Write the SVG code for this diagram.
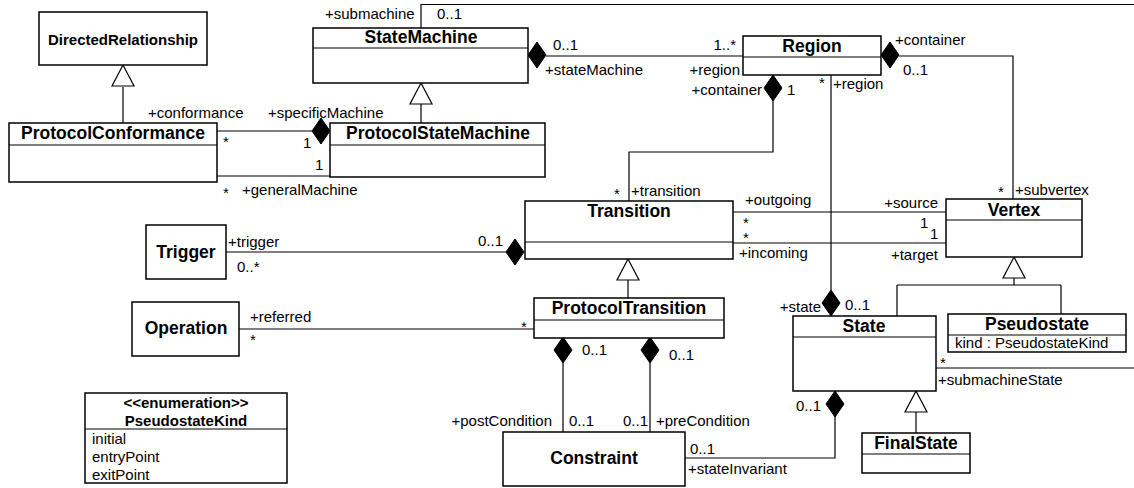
<svg xmlns="http://www.w3.org/2000/svg" xmlns:xlink="http://www.w3.org/1999/xlink" width="1134" height="488" viewBox="0 0 1134 488">
<style>
.box{fill:#fff;stroke:#000;stroke-width:1.5}
.ln{fill:none;stroke:#000;stroke-width:1.2}
text{font-family:"Liberation Sans",Arial,Helvetica,sans-serif;fill:#000}
.t{font-weight:bold;font-size:17.5px;text-anchor:middle}
.ts{font-weight:bold;font-size:15px;text-anchor:middle}
.l{font-size:15px}
.e{text-anchor:end}
.dia{fill:#000;stroke:#000;stroke-width:1}
.tri{fill:#fff;stroke:#000;stroke-width:1.2}
</style>
<defs>
<path id="dm" d="M0,-13 L9,0 L0,13 L-9,0 Z"/>
<path id="tr" d="M0,0 L11,21 L-11,21 Z"/>
</defs>
<rect width="1134" height="488" fill="#fff"/>

<g id="connectors">
<path class="ln" d="M217,131 H312"/>
<path class="ln" d="M217,176 H330"/>
<path class="ln" d="M421,28 V4.5 H1134"/>
<path class="ln" d="M936,368 H1134"/>
<path class="ln" d="M546,56 H743"/>
<path class="ln" d="M899,56 H1013 V199"/>
<path class="ln" d="M773,101 V152 H629 V201"/>
<path class="ln" d="M831,75 V290"/>
<path class="ln" d="M733,212 H946"/>
<path class="ln" d="M733,243 H946"/>
<path class="ln" d="M226,252 H506"/>
<path class="ln" d="M239,329 H534"/>
<path class="ln" d="M563,363 V432"/>
<path class="ln" d="M650,363 V432"/>
<path class="ln" d="M835,416 V458 H685"/>
<path class="ln" d="M123,87 V123"/>
<path class="ln" d="M421,104 V123"/>
<path class="ln" d="M628,280 V298"/>
<path class="ln" d="M1014,278 V285 M897,285 H1061 M897,285 V316 M1061,285 V314"/>
<path class="ln" d="M916,412 V433"/>
<use href="#dm" class="dia" x="321" y="131"/>
<use href="#dm" class="dia" x="537" y="55"/>
<use href="#dm" class="dia" x="890" y="55"/>
<use href="#dm" class="dia" x="773" y="88"/>
<use href="#dm" class="dia" x="515" y="252"/>
<use href="#dm" class="dia" x="563" y="350"/>
<use href="#dm" class="dia" x="650" y="350"/>
<use href="#dm" class="dia" x="831" y="303"/>
<use href="#dm" class="dia" x="835" y="404"/>
<use href="#tr" class="tri" x="123" y="65"/>
<use href="#tr" class="tri" x="421" y="83"/>
<use href="#tr" class="tri" x="628" y="259"/>
<use href="#tr" class="tri" x="1014" y="257"/>
<use href="#tr" class="tri" x="916" y="391"/>
<text class="l" x="148" y="118">+conformance</text>
<text class="l" x="268" y="118">+specificMachine</text>
<text class="l" x="223" y="147">*</text>
<text class="l" x="303" y="148">1</text>
<text class="l" x="315" y="170">1</text>
<text class="l" x="223" y="198">*</text>
<text class="l" x="242" y="195">+generalMachine</text>
<text class="l" x="325" y="19">+submachine</text>
<text class="l" x="437" y="19">0..1</text>
<text class="l" x="553" y="50">0..1</text>
<text class="l" x="545" y="75">+stateMachine</text>
<text class="l e" x="736" y="50">1..*</text>
<text class="l e" x="740" y="75">+region</text>
<text class="l e" x="762" y="95">+container</text>
<text class="l" x="787" y="95">1</text>
<text class="l" x="895" y="45">+container</text>
<text class="l" x="903" y="75">0..1</text>
<text class="l" x="819" y="88">*</text>
<text class="l" x="833" y="89">+region</text>
<text class="l" x="614" y="199">*</text>
<text class="l" x="631" y="196">+transition</text>
<text class="l" x="745" y="205">+outgoing</text>
<text class="l" x="743" y="228">*</text>
<text class="l" x="743" y="243">*</text>
<text class="l" x="739" y="258">+incoming</text>
<text class="l e" x="938" y="208">+source</text>
<text class="l" x="920" y="228">1</text>
<text class="l" x="930" y="239">1</text>
<text class="l e" x="938" y="260">+target</text>
<text class="l" x="998" y="197">*</text>
<text class="l" x="1015" y="195">+subvertex</text>
<text class="l" x="228" y="247">+trigger</text>
<text class="l" x="237" y="272">0..*</text>
<text class="l" x="478" y="246">0..1</text>
<text class="l" x="250" y="322">+referred</text>
<text class="l" x="250" y="345">*</text>
<text class="l" x="521" y="332">*</text>
<text class="l e" x="821" y="312">+state</text>
<text class="l" x="845" y="310">0..1</text>
<text class="l" x="582" y="355">0..1</text>
<text class="l" x="669" y="360">0..1</text>
<text class="l e" x="552" y="426">+postCondition</text>
<text class="l" x="569" y="426">0..1</text>
<text class="l" x="623" y="426">0..1</text>
<text class="l" x="656" y="426">+preCondition</text>
<text class="l" x="690" y="454">0..1</text>
<text class="l" x="688" y="474">+stateInvariant</text>
<text class="l" x="796" y="411">0..1</text>
<text class="l" x="940" y="368">*</text>
<text class="l" x="938" y="385">+submachineState</text>
</g>

<g id="DirectedRelationship">
<rect class="box" x="39" y="12" width="168" height="53"/>
<text class="ts" x="123" y="45">DirectedRelationship</text>
</g>
<g id="ProtocolConformance">
<rect class="box" x="9" y="123" width="208" height="59"/>
<path class="ln" d="M9,145 H217"/>
<text class="t" x="113" y="139">ProtocolConformance</text>
</g>
<g id="StateMachine">
<rect class="box" x="313" y="28" width="215" height="55"/>
<path class="ln" d="M313,48 H528"/>
<text class="t" x="421" y="43">StateMachine</text>
</g>
<g id="ProtocolStateMachine">
<rect class="box" x="330" y="123" width="215" height="54"/>
<path class="ln" d="M330,145 H545"/>
<text class="t" x="438" y="139">ProtocolStateMachine</text>
</g>
<g id="Region">
<rect class="box" x="743" y="36" width="138" height="39"/>
<path class="ln" d="M743,57 H881"/>
<text class="t" x="812" y="52">Region</text>
</g>
<g id="Transition">
<rect class="box" x="525" y="201" width="208" height="58"/>
<path class="ln" d="M525,242 H733"/>
<text class="t" x="629" y="217">Transition</text>
</g>
<g id="Vertex">
<rect class="box" x="946" y="199" width="136" height="58"/>
<path class="ln" d="M946,220 H1082"/>
<text class="t" x="1014" y="215.5">Vertex</text>
</g>
<g id="Trigger">
<rect class="box" x="146" y="225" width="80" height="54"/>
<text class="t" x="186" y="258">Trigger</text>
</g>
<g id="Operation">
<rect class="box" x="132" y="302" width="107" height="54"/>
<text class="t" x="186" y="334">Operation</text>
</g>
<g id="ProtocolTransition">
<rect class="box" x="534" y="298" width="190" height="40"/>
<path class="ln" d="M534,320 H724"/>
<text class="t" x="629" y="314">ProtocolTransition</text>
</g>
<g id="State">
<rect class="box" x="793" y="316" width="143" height="75"/>
<path class="ln" d="M793,337 H936"/>
<text class="t" x="864" y="332">State</text>
</g>
<g id="Pseudostate">
<rect class="box" x="948" y="314" width="178" height="38"/>
<path class="ln" d="M948,335 H1126"/>
<text class="t" x="1037" y="330">Pseudostate</text>
<text class="l" x="955" y="348">kind : PseudostateKind</text>
</g>
<g id="FinalState">
<rect class="box" x="862" y="433" width="108" height="40"/>
<path class="ln" d="M862,454 H970"/>
<text class="t" x="916" y="449">FinalState</text>
</g>
<g id="Constraint">
<rect class="box" x="503" y="432" width="182" height="54"/>
<text class="t" x="594" y="464">Constraint</text>
</g>
<g id="PseudostateKind">
<rect class="box" x="85" y="393" width="202" height="90"/>
<path class="ln" d="M85,429 H287"/>
<text class="ts" x="186" y="408">&lt;&lt;enumeration&gt;&gt;</text>
<text class="ts" x="186" y="426">PseudostateKind</text>
<text class="l" x="92" y="444">initial</text>
<text class="l" x="92" y="462">entryPoint</text>
<text class="l" x="92" y="480">exitPoint</text>
</g>
</svg>
